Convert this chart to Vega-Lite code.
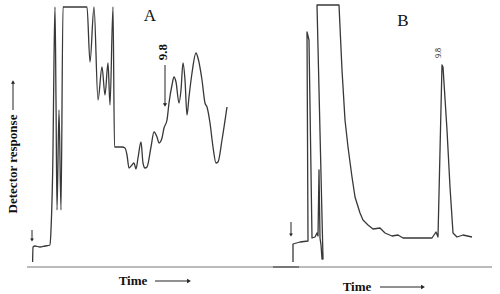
{
  "$schema": "https://vega.github.io/schema/vega-lite/v6.json",
  "width": 500,
  "height": 294,
  "autosize": {"type": "fit", "contains": "padding"},
  "padding": 0,
  "background": "white",
  "config": {"view": {"stroke": null}},
  "datasets": {
    "trace": [
      {"s": "A", "i": 1, "t": 32.6, "r": 5},
      {"s": "A", "i": 2, "t": 33, "r": 20},
      {"s": "A", "i": 3, "t": 35, "r": 21},
      {"s": "A", "i": 4, "t": 40, "r": 20},
      {"s": "A", "i": 5, "t": 45, "r": 21},
      {"s": "A", "i": 6, "t": 50, "r": 22},
      {"s": "A", "i": 7, "t": 51, "r": 37},
      {"s": "A", "i": 8, "t": 53, "r": 117},
      {"s": "A", "i": 9, "t": 54, "r": 207},
      {"s": "A", "i": 10, "t": 55, "r": 260},
      {"s": "A", "i": 11, "t": 56, "r": 167},
      {"s": "A", "i": 12, "t": 57, "r": 57},
      {"s": "A", "i": 13, "t": 59, "r": 157},
      {"s": "A", "i": 14, "t": 61, "r": 57},
      {"s": "A", "i": 15, "t": 63, "r": 260},
      {"s": "A", "i": 16, "t": 87, "r": 260},
      {"s": "A", "i": 17, "t": 90, "r": 205},
      {"s": "A", "i": 18, "t": 94, "r": 260},
      {"s": "A", "i": 19, "t": 98, "r": 167},
      {"s": "A", "i": 20, "t": 102, "r": 200},
      {"s": "A", "i": 21, "t": 105, "r": 172},
      {"s": "A", "i": 22, "t": 108, "r": 204},
      {"s": "A", "i": 23, "t": 110, "r": 162},
      {"s": "A", "i": 24, "t": 113, "r": 260},
      {"s": "A", "i": 25, "t": 114.5, "r": 120},
      {"s": "A", "i": 26, "t": 122, "r": 120},
      {"s": "A", "i": 27, "t": 125, "r": 119},
      {"s": "A", "i": 28, "t": 127, "r": 112},
      {"s": "A", "i": 29, "t": 129, "r": 99},
      {"s": "A", "i": 30, "t": 132, "r": 102},
      {"s": "A", "i": 31, "t": 134, "r": 104},
      {"s": "A", "i": 32, "t": 136, "r": 98},
      {"s": "A", "i": 33, "t": 138, "r": 109},
      {"s": "A", "i": 34, "t": 141, "r": 125},
      {"s": "A", "i": 35, "t": 143, "r": 104},
      {"s": "A", "i": 36, "t": 145, "r": 99},
      {"s": "A", "i": 37, "t": 147, "r": 100},
      {"s": "A", "i": 38, "t": 151, "r": 120},
      {"s": "A", "i": 39, "t": 154, "r": 135},
      {"s": "A", "i": 40, "t": 157, "r": 130},
      {"s": "A", "i": 41, "t": 159, "r": 124},
      {"s": "A", "i": 42, "t": 162, "r": 129},
      {"s": "A", "i": 43, "t": 164, "r": 139},
      {"s": "A", "i": 44, "t": 167, "r": 147},
      {"s": "A", "i": 45, "t": 169, "r": 164},
      {"s": "A", "i": 46, "t": 172, "r": 182},
      {"s": "A", "i": 47, "t": 174, "r": 190},
      {"s": "A", "i": 48, "t": 176, "r": 185},
      {"s": "A", "i": 49, "t": 179, "r": 164},
      {"s": "A", "i": 50, "t": 181, "r": 177},
      {"s": "A", "i": 51, "t": 183, "r": 204},
      {"s": "A", "i": 52, "t": 185, "r": 187},
      {"s": "A", "i": 53, "t": 187, "r": 152},
      {"s": "A", "i": 54, "t": 189, "r": 170},
      {"s": "A", "i": 55, "t": 192, "r": 194},
      {"s": "A", "i": 56, "t": 196, "r": 214},
      {"s": "A", "i": 57, "t": 198, "r": 209},
      {"s": "A", "i": 58, "t": 202, "r": 187},
      {"s": "A", "i": 59, "t": 205, "r": 164},
      {"s": "A", "i": 60, "t": 207, "r": 160},
      {"s": "A", "i": 61, "t": 210, "r": 144},
      {"s": "A", "i": 62, "t": 213, "r": 120},
      {"s": "A", "i": 63, "t": 216, "r": 104},
      {"s": "A", "i": 64, "t": 218, "r": 105},
      {"s": "A", "i": 65, "t": 222, "r": 127},
      {"s": "A", "i": 66, "t": 227, "r": 160},
      {"s": "B", "i": 1, "t": 293, "r": 5},
      {"s": "B", "i": 2, "t": 293, "r": 23},
      {"s": "B", "i": 3, "t": 300, "r": 25},
      {"s": "B", "i": 4, "t": 308, "r": 26},
      {"s": "B", "i": 5, "t": 307, "r": 235},
      {"s": "B", "i": 6, "t": 309, "r": 227},
      {"s": "B", "i": 7, "t": 312, "r": 29},
      {"s": "B", "i": 8, "t": 315, "r": 30},
      {"s": "B", "i": 9, "t": 317, "r": 34},
      {"s": "B", "i": 10, "t": 318, "r": 31},
      {"s": "B", "i": 11, "t": 319, "r": 97},
      {"s": "B", "i": 12, "t": 320, "r": 29},
      {"s": "B", "i": 13, "t": 321, "r": 22},
      {"s": "B", "i": 14, "t": 322, "r": 8},
      {"s": "B", "i": 15, "t": 323, "r": 8},
      {"s": "B", "i": 16, "t": 317, "r": 262},
      {"s": "B", "i": 17, "t": 339, "r": 262},
      {"s": "B", "i": 18, "t": 342, "r": 197},
      {"s": "B", "i": 19, "t": 345, "r": 147},
      {"s": "B", "i": 20, "t": 348, "r": 120},
      {"s": "B", "i": 21, "t": 352, "r": 90},
      {"s": "B", "i": 22, "t": 355, "r": 70},
      {"s": "B", "i": 23, "t": 360, "r": 54},
      {"s": "B", "i": 24, "t": 363, "r": 47},
      {"s": "B", "i": 25, "t": 368, "r": 42},
      {"s": "B", "i": 26, "t": 373, "r": 38},
      {"s": "B", "i": 27, "t": 380, "r": 39},
      {"s": "B", "i": 28, "t": 385, "r": 34},
      {"s": "B", "i": 29, "t": 392, "r": 31},
      {"s": "B", "i": 30, "t": 398, "r": 32},
      {"s": "B", "i": 31, "t": 403, "r": 29},
      {"s": "B", "i": 32, "t": 417, "r": 29},
      {"s": "B", "i": 33, "t": 432, "r": 29},
      {"s": "B", "i": 34, "t": 436, "r": 35},
      {"s": "B", "i": 35, "t": 438, "r": 30},
      {"s": "B", "i": 36, "t": 442, "r": 202},
      {"s": "B", "i": 37, "t": 443, "r": 200},
      {"s": "B", "i": 38, "t": 447, "r": 137},
      {"s": "B", "i": 39, "t": 450, "r": 80},
      {"s": "B", "i": 40, "t": 453, "r": 34},
      {"s": "B", "i": 41, "t": 457, "r": 30},
      {"s": "B", "i": 42, "t": 463, "r": 32},
      {"s": "B", "i": 43, "t": 472, "r": 30}
    ],
    "baselines": [
      {"t": 27, "t2": 492, "r": 0, "w": 1},
      {"t": 273, "t2": 299, "r": 0, "w": 2}
    ],
    "arrows": [
      {"t": 32, "t2": 32, "r": 37, "r2": 28},
      {"t": 291, "t2": 291, "r": 45, "r2": 33},
      {"t": 165, "t2": 165, "r": 202, "r2": 163},
      {"t": 13, "t2": 13, "r": 157, "r2": 184},
      {"t": 155, "t2": 188, "r": -14, "r2": -14},
      {"t": 380, "t2": 421, "r": -20, "r2": -20}
    ],
    "heads": [
      {"t": 32, "r": 27, "dir": "down", "sz": 14},
      {"t": 291, "r": 32, "dir": "down", "sz": 14},
      {"t": 165, "r": 162, "dir": "down", "sz": 18},
      {"t": 13, "r": 185, "dir": "up", "sz": 16},
      {"t": 189, "r": -14, "dir": "right", "sz": 20},
      {"t": 423, "r": -20, "dir": "right", "sz": 20}
    ],
    "boldText": [
      {"label": "9.8", "t": 163, "r": 215, "a": 270, "fs": 13},
      {"label": "Time", "t": 133, "r": -14, "a": 0, "fs": 13},
      {"label": "Time", "t": 357, "r": -20, "a": 0, "fs": 13},
      {"label": "Detector response", "t": 13, "r": 103, "a": 270, "fs": 13}
    ],
    "plainText": [
      {"label": "A", "t": 150, "r": 251, "a": 0, "fs": 17},
      {"label": "B", "t": 403, "r": 246, "a": 0, "fs": 17},
      {"label": "9.8", "t": 439, "r": 214, "a": 270, "fs": 8}
    ]
  },
  "layer": [
    {
      "data": {"name": "baselines"},
      "mark": {"type": "rule", "color": "#777777"},
      "encoding": {
        "x": {"field": "t", "type": "quantitative", "scale": {"domain": [0, 500], "nice": false, "zero": false}, "axis": null},
        "x2": {"field": "t2"},
        "y": {"field": "r", "type": "quantitative", "scale": {"domain": [-27, 267], "nice": false, "zero": false}, "axis": null},
        "strokeWidth": {"field": "w", "type": "quantitative", "scale": null}
      }
    },
    {
      "data": {"name": "trace"},
      "transform": [{"filter": "datum.s === 'A'"}],
      "mark": {"type": "line", "color": "#383838", "strokeWidth": 1.3, "strokeJoin": "round", "interpolate": "monotone"},
      "encoding": {
        "x": {"field": "t", "type": "quantitative", "scale": {"domain": [0, 500], "nice": false, "zero": false}, "axis": null},
        "y": {"field": "r", "type": "quantitative", "scale": {"domain": [-27, 267], "nice": false, "zero": false}, "axis": null},
        "order": {"field": "i", "type": "quantitative"}
      }
    },
    {
      "data": {"name": "trace"},
      "transform": [{"filter": "datum.s === 'B'"}],
      "mark": {"type": "line", "color": "#383838", "strokeWidth": 1.3, "strokeJoin": "round"},
      "encoding": {
        "x": {"field": "t", "type": "quantitative", "scale": {"domain": [0, 500], "nice": false, "zero": false}, "axis": null},
        "y": {"field": "r", "type": "quantitative", "scale": {"domain": [-27, 267], "nice": false, "zero": false}, "axis": null},
        "order": {"field": "i", "type": "quantitative"}
      }
    },
    {
      "data": {"name": "arrows"},
      "mark": {"type": "rule", "color": "#222222", "strokeWidth": 1},
      "encoding": {
        "x": {"field": "t", "type": "quantitative", "scale": {"domain": [0, 500], "nice": false, "zero": false}, "axis": null},
        "x2": {"field": "t2"},
        "y": {"field": "r", "type": "quantitative", "scale": {"domain": [-27, 267], "nice": false, "zero": false}, "axis": null},
        "y2": {"field": "r2"}
      }
    },
    {
      "data": {"name": "heads"},
      "mark": {"type": "point", "filled": true, "color": "#222222", "opacity": 1},
      "encoding": {
        "x": {"field": "t", "type": "quantitative", "scale": {"domain": [0, 500], "nice": false, "zero": false}, "axis": null},
        "y": {"field": "r", "type": "quantitative", "scale": {"domain": [-27, 267], "nice": false, "zero": false}, "axis": null},
        "shape": {"field": "dir", "type": "nominal", "scale": {"domain": ["down", "up", "right"], "range": ["triangle-down", "triangle-up", "triangle-right"]}, "legend": null},
        "size": {"field": "sz", "type": "quantitative", "scale": null}
      }
    },
    {
      "data": {"name": "boldText"},
      "mark": {"type": "text", "font": "Liberation Serif", "fontWeight": "bold", "color": "#111111", "align": "center", "baseline": "middle"},
      "encoding": {
        "x": {"field": "t", "type": "quantitative", "scale": {"domain": [0, 500], "nice": false, "zero": false}, "axis": null},
        "y": {"field": "r", "type": "quantitative", "scale": {"domain": [-27, 267], "nice": false, "zero": false}, "axis": null},
        "text": {"field": "label", "type": "nominal"},
        "angle": {"field": "a", "type": "quantitative", "scale": null},
        "size": {"field": "fs", "type": "quantitative", "scale": null}
      }
    },
    {
      "data": {"name": "plainText"},
      "mark": {"type": "text", "font": "Liberation Serif", "color": "#111111", "align": "center", "baseline": "middle"},
      "encoding": {
        "x": {"field": "t", "type": "quantitative", "scale": {"domain": [0, 500], "nice": false, "zero": false}, "axis": null},
        "y": {"field": "r", "type": "quantitative", "scale": {"domain": [-27, 267], "nice": false, "zero": false}, "axis": null},
        "text": {"field": "label", "type": "nominal"},
        "angle": {"field": "a", "type": "quantitative", "scale": null},
        "size": {"field": "fs", "type": "quantitative", "scale": null}
      }
    }
  ]
}
